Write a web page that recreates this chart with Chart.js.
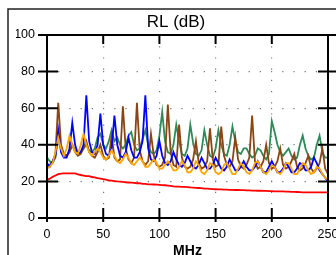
<!DOCTYPE html>
<html>
<head>
<meta charset="utf-8">
<title>RL (dB)</title>
<script src="https://cdn.jsdelivr.net/npm/chart.js@4.4.0/dist/chart.umd.min.js"></script>
<style>
html, body { margin: 0; padding: 0; background: #fff; overflow: hidden; }
canvas { display: block; }
</style>
</head>
<body>
<canvas id="chart" width="336" height="255"></canvas>
<script>
// frequency points, MHz
const freq = [
  0, 2.5, 5, 7.5, 10, 12.5, 15, 17.5, 20, 22.5,
  25, 27.5, 30, 32.5, 35, 37.5, 40, 42.5, 45, 47.5,
  50, 52.5, 55, 57.5, 60, 62.5, 65, 67.5, 70, 72.5,
  75, 77.5, 80, 82.5, 85, 87.5, 90, 92.5, 95, 97.5,
  100, 102.5, 105, 107.5, 110, 112.5, 115, 117.5, 120, 122.5,
  125, 127.5, 130, 132.5, 135, 137.5, 140, 142.5, 145, 147.5,
  150, 152.5, 155, 157.5, 160, 162.5, 165, 167.5, 170, 172.5,
  175, 177.5, 180, 182.5, 185, 187.5, 190, 192.5, 195, 197.5,
  200, 202.5, 205, 207.5, 210, 212.5, 215, 217.5, 220, 222.5,
  225, 227.5, 230, 232.5, 235, 237.5, 240, 242.5, 245, 247.5,
  250
];

// return loss traces, dB
const brown = [
  28, 29, 31, 35, 63, 40, 35, 34, 36, 40,
  36, 34, 35, 38, 42, 36, 34, 33, 36, 40,
  34, 32, 33, 45, 33, 31, 32, 61, 38, 32,
  30, 33, 63, 37, 31, 29, 31, 46, 34, 29,
  28, 29, 33, 62, 36, 29, 28, 51, 33, 28,
  27, 28, 32, 42, 30, 27, 28, 31, 49, 32,
  28, 29, 50, 34, 29, 28, 31, 44, 32, 28,
  27, 29, 33, 56, 31, 27, 28, 31, 40, 30,
  27, 28, 31, 38, 29, 27, 28, 31, 35, 28,
  26, 27, 30, 34, 27, 25, 27, 30, 38, 27,
  24
];
const blue = [
  30, 28, 31, 34, 48, 36, 33, 33, 38, 52,
  40, 35, 36, 40, 67, 42, 36, 35, 40, 57,
  40, 35, 34, 38, 56, 40, 34, 33, 36, 44,
  37, 33, 33, 36, 42, 67, 38, 32, 31, 34,
  42, 34, 30, 29, 31, 36, 32, 29, 28, 30,
  34, 31, 28, 27, 29, 33, 30, 27, 27, 29,
  33, 30, 27, 26, 28, 32, 29, 26, 26, 28,
  31, 28, 26, 26, 28, 31, 28, 25, 25, 28,
  31, 28, 25, 25, 27, 30, 28, 25, 25, 27,
  30, 29, 26, 26, 28, 33, 30, 26, 24, 22,
  20
];
const green = [
  33, 31, 30, 33, 44, 38, 34, 34, 36, 40,
  37, 35, 36, 38, 40, 37, 36, 38, 44, 46,
  40, 38, 42, 48, 42, 44, 40, 38, 40, 45,
  47, 40, 37, 38, 43, 48, 40, 36, 35, 37,
  45, 58, 42, 36, 35, 40, 51, 42, 35, 34,
  38, 51, 41, 35, 34, 37, 48, 40, 34, 33,
  38, 48, 40, 35, 34, 40, 50, 42, 36, 35,
  38, 38, 35, 33, 34, 38, 37, 34, 32, 35,
  53, 47, 40, 36, 34, 36, 38, 34, 32, 33,
  40, 45, 38, 34, 32, 33, 40, 45, 36, 33,
  33
];
const orange = [
  27, 28, 30, 36, 44, 38, 34, 38, 45, 40,
  36, 35, 40, 46, 40, 36, 34, 36, 38, 36,
  33, 32, 34, 37, 34, 31, 30, 32, 35, 33,
  30, 29, 31, 33, 31, 28, 28, 30, 32, 30,
  27, 27, 29, 31, 29, 26, 26, 28, 31, 29,
  25, 25, 27, 31, 29, 25, 24, 26, 30, 29,
  25, 24, 25, 29, 30, 27, 24, 24, 27, 30,
  28, 25, 24, 26, 30, 31, 28, 25, 24, 26,
  29, 28, 25, 24, 26, 30, 30, 27, 24, 24,
  27, 30, 29, 26, 24, 25, 28, 27, 24, 22,
  21
];
// limit line
const red = [
  20.8, 21.5, 22.5, 23.2, 24, 24.3, 24.4, 24.4, 24.4, 24.4,
  24.4, 23.8, 23.5, 23.2, 22.9, 22.9, 22.4, 22.2, 21.8, 21.5,
  21.2, 21, 20.5, 20.4, 20.2, 20, 19.9, 19.7, 19.5, 19.4,
  19.3, 19.2, 19, 19, 18.7, 18.6, 18.4, 18.4, 18.3, 18.2,
  18.1, 18, 17.9, 17.7, 17.5, 17.3, 17.2, 17.1, 17, 17,
  16.9, 16.7, 16.6, 16.5, 16.4, 16.3, 16.1, 16, 15.9, 15.8,
  15.7, 15.6, 15.6, 15.5, 15.5, 15.4, 15.4, 15.3, 15.3, 15.2,
  15.2, 15.1, 15.1, 15, 15, 14.9, 14.9, 14.8, 14.8, 14.7,
  14.7, 14.6, 14.6, 14.5, 14.5, 14.4, 14.4, 14.3, 14.3, 14.2,
  14.1, 14, 14, 14, 14, 14, 14, 14, 14, 14,
  14
];

const xTicks = [0, 50, 100, 150, 200, 250];
const yTicks = [0, 20, 40, 60, 80, 100];

const FONT = "'Liberation Sans', Arial, sans-serif";

function pts(arr) {
  return freq.map((f, i) => ({ x: f, y: arr[i] }));
}
function line(color, arr) {
  return {
    data: pts(arr),
    borderColor: color,
    backgroundColor: color,
    borderWidth: 1.8,
    pointRadius: 0,
    tension: 0,
    fill: false
  };
}

// axis box, tick marks both sides, outer frame
const boxPlugin = {
  id: 'box',
  beforeDraw(chart) {
    const ctx = chart.ctx;
    ctx.save();
    ctx.strokeStyle = '#222';
    ctx.lineWidth = 1.5;
    ctx.beginPath();
    ctx.moveTo(8, 260);
    ctx.lineTo(8, 9);
    ctx.lineTo(340, 9);
    ctx.stroke();
    ctx.restore();
  },
  afterDraw(chart) {
    const { ctx, chartArea: a, scales } = chart;
    const x = scales.x, y = scales.y;
    ctx.save();
    ctx.strokeStyle = '#000';
    ctx.lineWidth = 2;
    ctx.strokeRect(a.left, a.top, a.right - a.left, a.bottom - a.top);
    ctx.beginPath();
    yTicks.forEach(v => {
      const py = y.getPixelForValue(v);
      ctx.moveTo(a.left - 9, py); ctx.lineTo(a.left + 11, py);
      ctx.moveTo(a.right - 10, py); ctx.lineTo(a.right + 8, py);
    });
    xTicks.forEach(v => {
      const px = x.getPixelForValue(v);
      ctx.moveTo(px, a.top); ctx.lineTo(px, a.top + 9);
      ctx.moveTo(px, a.bottom - 10); ctx.lineTo(px, a.bottom + 4);
    });
    ctx.stroke();
    ctx.restore();
  }
};

new Chart(document.getElementById('chart'), {
  type: 'line',
  data: {
    datasets: [
      line('#ff0000', red),
      line('#ffa500', orange),
      line('#0000ff', blue),
      line('#8b4513', brown),
      line('#2e8b57', green)
    ]
  },
  options: {
    responsive: false,
    animation: false,
    devicePixelRatio: 1,
    layout: { padding: { left: 16, right: 0, top: 0, bottom: 0 } },
    plugins: {
      legend: { display: false },
      tooltip: { enabled: false },
      title: {
        display: true,
        text: 'RL (dB)',
        color: '#000',
        font: { family: FONT, size: 17, weight: 'normal', lineHeight: 1.2 },
        padding: { top: 12.3, bottom: 2.3 }
      }
    },
    scales: {
      x: {
        type: 'linear',
        min: 0,
        max: 250,
        afterBuildTicks: s => { s.ticks = xTicks.map(v => ({ value: v })); },
        afterFit: s => { s.height = 37; s.paddingLeft = 0; s.paddingRight = 0; },
        ticks: { color: '#000', padding: 9, maxRotation: 0, font: { family: FONT, size: 12.5 } },
        grid: { color: '#777', lineWidth: 1.2, drawTicks: false },
        border: { display: false, dash: [1.2, 10] },
        title: {
          display: true,
          text: 'MHz',
          color: '#000',
          font: { family: FONT, size: 14, weight: 'bold', lineHeight: 1 },
          padding: { top: 0, bottom: -3 }
        }
      },
      y: {
        min: 0,
        max: 100,
        afterBuildTicks: s => { s.ticks = yTicks.map(v => ({ value: v })); },
        afterFit: s => { s.width = 31; s.paddingTop = 0; s.paddingBottom = 0; },
        ticks: { color: '#000', padding: 12, font: { family: FONT, size: 12.5 } },
        grid: { color: '#777', lineWidth: 1.2, drawTicks: false },
        border: { display: false, dash: [1.2, 10] }
      },
      r: {
        position: 'right',
        display: true,
        ticks: { display: false },
        grid: { display: false },
        border: { display: false },
        afterFit: s => { s.width = 8; }
      }
    }
  },
  plugins: [boxPlugin]
});
</script>
</body>
</html>
